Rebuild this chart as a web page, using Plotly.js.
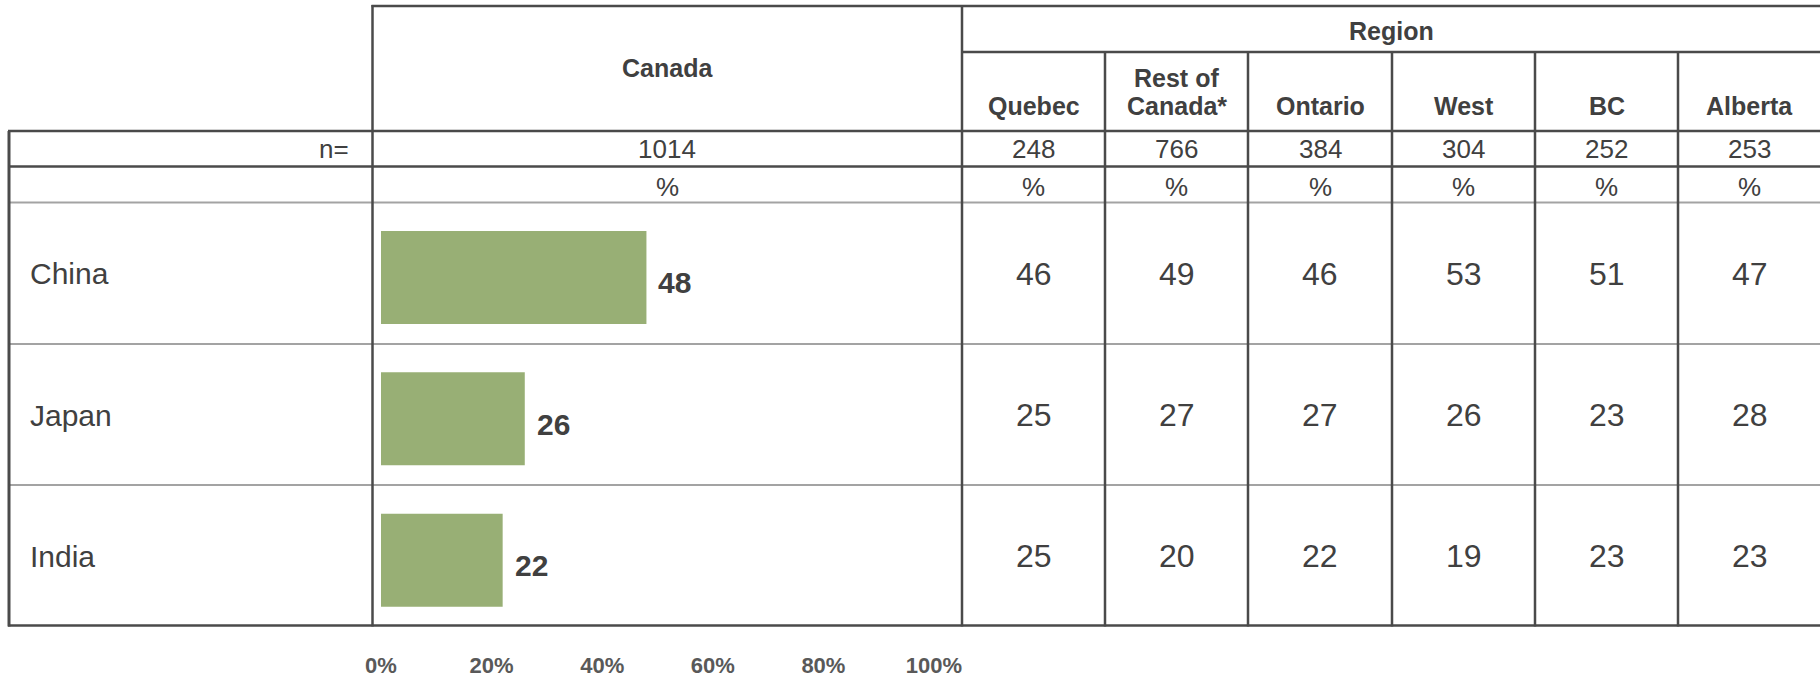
<!DOCTYPE html>
<html>
<head>
<meta charset="utf-8">
<script src="https://cdn.plot.ly/plotly-3.0.1.min.js"></script>
<style>html,body{margin:0;padding:0;background:#fff;}#chart{width:1820px;height:679px;}</style>
</head>
<body>
<div id="chart"></div>
<script>
// ---- data ----
const countries = ['China', 'Japan', 'India'];
const canadaValues = [48, 26, 22];
const regionColumns = ['Quebec', 'Rest of<br>Canada*', 'Ontario', 'West', 'BC', 'Alberta'];
const canadaN = 1014;
const regionN = [248, 766, 384, 304, 252, 253];
const quebecValues = [46, 25, 25];
const restOfCanadaValues = [49, 27, 20];
const ontarioValues = [46, 27, 22];
const westValues = [53, 26, 19];
const bcValues = [51, 23, 23];
const albertaValues = [47, 28, 23];
const regionValues = [quebecValues, restOfCanadaValues, ontarioValues, westValues, bcValues, albertaValues];
const tickValues = [0, 20, 40, 60, 80, 100];
const tickLabels = ['0%', '20%', '40%', '60%', '80%', '100%'];

// ---- layout helpers (pixel -> paper) ----
const W = 1820, H = 679;
const X = p => p / W;
const Y = p => 1 - p / H;
const FONT = 'Liberation Sans, Arial, sans-serif';
const TXT = '#404040';
const DARK = '#4a4a4a';
const GRAY = '#a3a3a3';

const colEdges = [962, 1105, 1248, 1392, 1535, 1678, 1821];
const colCenters = colEdges.slice(0, -1).map((e, i) => (e + colEdges[i + 1]) / 2);
const canadaLeft = 372.5, canadaRight = 962, tableLeft = 9, tableRight = 1820;

const shapes = [];
function hline(y, x0, x1, color, w) {
  shapes.push({type: 'line', xref: 'paper', yref: 'paper', x0: X(x0), x1: X(x1), y0: Y(y), y1: Y(y), line: {color: color, width: w}});
}
function vline(x, y0, y1, color, w) {
  shapes.push({type: 'line', xref: 'paper', yref: 'paper', x0: X(x), x1: X(x), y0: Y(y0), y1: Y(y1), line: {color: color, width: w}});
}
hline(6, canadaLeft - 1, tableRight, DARK, 2.5);
hline(52, canadaRight, tableRight, DARK, 2.5);
hline(131, tableLeft - 1, tableRight, DARK, 2.5);
hline(166.5, tableLeft, tableRight, DARK, 2.5);
hline(202.5, tableLeft, tableRight, GRAY, 2);
hline(344, tableLeft, tableRight, GRAY, 2);
hline(485, tableLeft, tableRight, GRAY, 2);
hline(625.5, tableLeft - 1, tableRight, DARK, 2.5);
vline(tableLeft, 131, 626.5, DARK, 3);
vline(canadaLeft, 5, 626.5, DARK, 2.5);
vline(canadaRight, 5, 626.5, DARK, 2.5);
colEdges.slice(1, -1).forEach(x => vline(x, 52, 626.5, DARK, 2.5));

const ann = [];
function txt(text, x, y, size, bold, anchor, extra) {
  const a = Object.assign({
    text: bold ? '<b>' + text + '</b>' : text,
    xref: 'paper', yref: 'paper', x: X(x), y: Y(y),
    xanchor: anchor || 'center', yanchor: 'middle', showarrow: false,
    font: {family: FONT, size: size, color: TXT}
  }, extra || {});
  ann.push(a);
}
// headers
txt('Canada', (canadaLeft + canadaRight) / 2, 68.5, 25, true);
txt('Region', (canadaRight + 1821) / 2, 31, 25, true);
regionColumns.forEach((c, i) => {
  const lines = c.split('<br>');
  lines.forEach((ln, k) => {
    txt(ln, colCenters[i], 105.5 - (lines.length - 1 - k) * 27.5, 25, true);
  });
});
// n row
txt('n=', 351, 149, 26, false, 'right');
txt(String(canadaN), (canadaLeft + canadaRight) / 2, 149, 26, false);
regionN.forEach((n, i) => txt(String(n), colCenters[i], 149, 26, false));
// % row
txt('%', (canadaLeft + canadaRight) / 2, 187, 26, false);
regionN.forEach((n, i) => txt('%', colCenters[i], 187, 26, false));
// row labels and region values (data-anchored on the y category axis)
countries.forEach((c, r) => {
  ann.push({text: c, xref: 'paper', yref: 'y', x: X(28), y: c, xanchor: 'left', yanchor: 'middle',
    yshift: -1, showarrow: false, font: {family: FONT, size: 30, color: TXT}});
  regionValues.forEach((vals, i) => {
    ann.push({text: String(vals[r]), xref: 'paper', yref: 'y', x: X(colCenters[i]), y: c,
      xanchor: 'center', yanchor: 'middle', yshift: -1, showarrow: false,
      font: {family: FONT, size: 32, color: TXT}});
  });
  ann.push({text: '<b>' + canadaValues[r] + '</b>', xref: 'x', yref: 'y', x: canadaValues[r], y: c,
    xanchor: 'left', yanchor: 'middle', xshift: 10, yshift: -10, showarrow: false,
    font: {family: FONT, size: 30, color: TXT}});
});

const trace = {
  type: 'bar', orientation: 'h',
  x: canadaValues, y: countries,
  marker: {color: '#98AF75', line: {width: 0}},
  width: 0.658, offset: -0.295,
  hoverinfo: 'skip'
};

const layout = {
  width: W, height: H,
  margin: {l: 0, r: 0, t: 0, b: 0},
  paper_bgcolor: '#fff', plot_bgcolor: 'rgba(0,0,0,0)',
  showlegend: false,
  xaxis: {
    domain: [X(381), X(934)], range: [0, 100], anchor: 'free', position: Y(650),
    tickvals: tickValues, ticktext: tickLabels, ticks: '',
    showgrid: false, zeroline: false, showline: false, fixedrange: true,
    tickfont: {family: FONT, size: 22, color: '#595959', weight: 'bold'}
  },
  yaxis: {
    domain: [Y(626), Y(202)], type: 'category', categoryarray: countries,
    range: [2.5, -0.5], showticklabels: false, showgrid: false, zeroline: false, showline: false, fixedrange: true
  },
  shapes: shapes,
  annotations: ann
};

Plotly.newPlot('chart', [trace], layout, {staticPlot: true, displayModeBar: false});
</script>
</body>
</html>
